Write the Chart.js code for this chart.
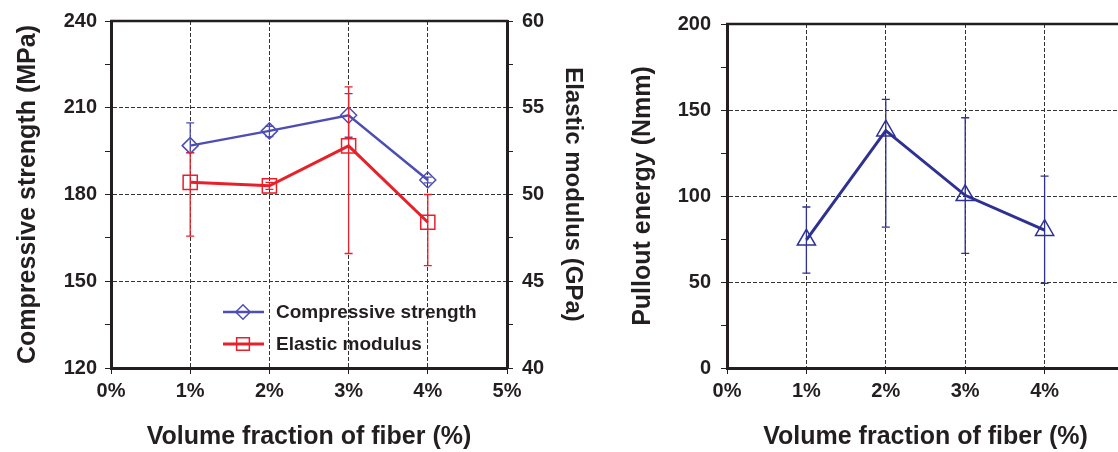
<!DOCTYPE html>
<html>
<head>
<meta charset="utf-8">
<script src="https://cdn.jsdelivr.net/npm/chart.js@4.4.1/dist/chart.umd.min.js"></script>
<style>
  html, body { margin: 0; padding: 0; background: #fff; overflow: hidden; }
  body { width: 1118px; height: 452px; position: relative; }
  #left { position: absolute; left: 0; top: 0; }
  #right { position: absolute; left: 600px; top: 0; }
</style>
</head>
<body>
<canvas id="left" width="600" height="452"></canvas>
<canvas id="right" width="560" height="452"></canvas>
<script>
// fiber volume fraction (%)
const fractions = [1, 2, 3, 4];

// left panel
const compressive = [196.9, 202.0, 207.4, 185.0];
const compressiveLow = [194.5, 200.0, 199.8, 184.0];
const compressiveHigh = [204.8, 203.6, 214.9, 186.0];
const modulus = [50.7, 50.5, 52.8, 48.4];
const modulusLow = [47.6, 50.3, 46.6, 45.9];
const modulusHigh = [52.4, 50.7, 56.2, 50.0];

// right panel
const pullout = [74.5, 138.0, 100.4, 80.1];
const pulloutLow = [55.2, 81.9, 66.6, 49.2];
const pulloutHigh = [93.6, 156.2, 145.5, 111.5];

const family = 'Arial, "Liberation Sans", sans-serif';
const ink = '#231f20';
const blue = '#4d4db4';
const red = '#e8202a';
const navy = '#2e3192';
const clear = 'rgba(0,0,0,0)';

const points = vals => fractions.map((f, i) => ({ x: f, y: vals[i] }));

// vertical error bars drawn from errLow / errHigh
const errorBars = {
  id: 'errorBars',
  afterDatasetsDraw(chart) {
    const ctx = chart.ctx;
    chart.data.datasets.forEach((ds, i) => {
      if (!ds.errLow) return;
      const meta = chart.getDatasetMeta(i);
      const xs = chart.scales[meta.xAxisID];
      const ys = chart.scales[meta.yAxisID];
      ctx.save();
      ctx.strokeStyle = ds.borderColor;
      ctx.lineWidth = 1.3;
      ds.data.forEach((p, j) => {
        const x = xs.getPixelForValue(p.x);
        const lo = ys.getPixelForValue(ds.errLow[j]);
        const hi = ys.getPixelForValue(ds.errHigh[j]);
        ctx.beginPath();
        ctx.moveTo(x, lo); ctx.lineTo(x, hi);
        ctx.moveTo(x - 4, lo); ctx.lineTo(x + 4, lo);
        ctx.moveTo(x - 4, hi); ctx.lineTo(x + 4, hi);
        ctx.stroke();
      });
      ctx.restore();
    });
  }
};

// top edge of the plot box
const topFrame = {
  id: 'topFrame',
  afterDraw(chart) {
    const { ctx, chartArea: a } = chart;
    ctx.save();
    ctx.strokeStyle = ink;
    ctx.lineWidth = 2.5;
    ctx.beginPath();
    ctx.moveTo(a.left - 1, a.top);
    ctx.lineTo(a.right + 1, a.top);
    ctx.stroke();
    ctx.restore();
  }
};

// legend inside the left plot
const innerLegend = {
  id: 'innerLegend',
  afterDraw(chart) {
    const ctx = chart.ctx;
    const rows = [312, 344];
    chart.data.datasets.forEach((ds, i) => {
      const y = rows[i];
      ctx.save();
      ctx.strokeStyle = ds.borderColor;
      ctx.lineWidth = ds.borderWidth;
      ctx.beginPath();
      ctx.moveTo(223, y); ctx.lineTo(264, y);
      ctx.stroke();
      ctx.fillStyle = clear;
      ctx.lineWidth = ds.pointBorderWidth;
      Chart.helpers.drawPoint(ctx, { pointStyle: ds.pointStyle, radius: ds.pointRadius * 0.9, borderWidth: ds.pointBorderWidth, rotation: 0 }, 243, y);
      ctx.fillStyle = ink;
      ctx.font = 'bold 19px ' + family;
      ctx.textBaseline = 'middle';
      ctx.fillText(ds.label, 276, y + 1);
      ctx.restore();
    });
  }
};

function xAxis(hideLast) {
  return {
    type: 'linear', min: 0, max: 5,
    afterFit: s => { s.height = 84; },
    ticks: {
      stepSize: 1, padding: 5, color: ink, maxRotation: 0,
      font: { family, size: 20, weight: 'bold' },
      callback: v => (hideLast && v === 5 ? '' : v + '%')
    },
    grid: {
      color: c => (c.tick && c.tick.value > 0 && c.tick.value < 5 ? '#333' : clear),
      tickColor: ink, tickLength: 6, lineWidth: 1
    },
    border: { display: true, color: ink, width: 3, dash: [4, 2] },
    title: {
      display: true, text: 'Volume fraction of fiber (%)', color: ink,
      font: { family, size: 25, weight: 'bold' }, padding: { top: 0, bottom: 0 }
    }
  };
}

function yAxis(opt) {
  return {
    type: 'linear', position: opt.position, min: opt.min, max: opt.max,
    afterFit: s => { s.width = opt.width; },
    ticks: {
      stepSize: opt.step, padding: opt.tickPad, color: ink,
      font: { family, size: 20, weight: 'bold' },
      callback: v => (v % opt.major === 0 ? v : '')
    },
    grid: {
      drawOnChartArea: opt.position === 'left',
      color: c => (c.tick && c.tick.value % opt.major === 0 && c.tick.value > opt.min && c.tick.value < opt.max ? '#333' : clear),
      tickColor: ink, tickLength: 6, lineWidth: 1
    },
    border: { display: true, color: ink, width: 3, dash: [4, 2] },
    title: {
      display: true, text: opt.title, color: ink,
      font: { family, size: opt.titleSize, weight: 'bold' }, padding: { top: opt.titlePad, bottom: 0 }
    }
  };
}

Chart.defaults.devicePixelRatio = 1;

new Chart(document.getElementById('left'), {
  type: 'line',
  data: {
    datasets: [{
      label: 'Compressive strength',
      data: points(compressive),
      errLow: compressiveLow, errHigh: compressiveHigh,
      yAxisID: 'y',
      borderColor: blue, borderWidth: 2.5,
      pointStyle: 'rectRot', pointRadius: 8, pointBorderWidth: 1.5,
      pointBackgroundColor: clear, pointBorderColor: blue,
      clip: false
    }, {
      label: 'Elastic modulus',
      data: points(modulus),
      errLow: modulusLow, errHigh: modulusHigh,
      yAxisID: 'y1',
      borderColor: red, borderWidth: 3,
      pointStyle: 'rect', pointRadius: 10, pointBorderWidth: 1.5,
      pointBackgroundColor: clear, pointBorderColor: red,
      clip: false
    }]
  },
  options: {
    responsive: false,
    animation: false,
    layout: { padding: { top: 21, left: 0, right: 0, bottom: 0 } },
    plugins: { legend: { display: false }, tooltip: { enabled: false } },
    scales: {
      x: xAxis(false),
      y: yAxis({ position: 'left', min: 120, max: 240, step: 15, major: 30, width: 111, tickPad: 8, titlePad: 13, titleSize: 25, title: 'Compressive strength (MPa)' }),
      y1: yAxis({ position: 'right', min: 40, max: 60, step: 2.5, major: 5, width: 93, tickPad: 9, titlePad: 13, titleSize: 24, title: 'Elastic modulus (GPa)' })
    }
  },
  plugins: [errorBars, topFrame, innerLegend]
});

new Chart(document.getElementById('right'), {
  type: 'line',
  data: {
    datasets: [{
      label: 'Pullout energy',
      data: points(pullout),
      errLow: pulloutLow, errHigh: pulloutHigh,
      yAxisID: 'y',
      borderColor: navy, borderWidth: 3,
      pointStyle: 'triangle', pointRadius: 10.5, pointBorderWidth: 1.5,
      pointBackgroundColor: clear, pointBorderColor: navy,
      clip: false
    }]
  },
  options: {
    responsive: false,
    animation: false,
    layout: { padding: { top: 24, left: 0, right: 36, bottom: 0 } },
    plugins: { legend: { display: false }, tooltip: { enabled: false } },
    scales: {
      x: xAxis(true),
      y: yAxis({ position: 'left', min: 0, max: 200, step: 25, major: 50, width: 127, tickPad: 10, titlePad: 28, titleSize: 25, title: 'Pullout energy (Nmm)' })
    }
  },
  plugins: [errorBars, topFrame]
});
</script>
</body>
</html>
